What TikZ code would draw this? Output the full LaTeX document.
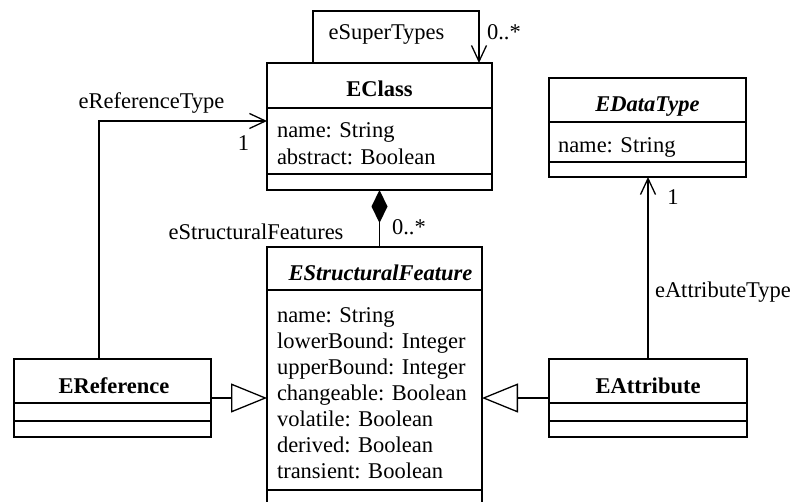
\documentclass[tikz,border=0pt]{standalone}
\usepackage{fontspec}
\setmainfont{Liberation Serif}
\usetikzlibrary{arrows.meta}
\begin{document}
\begin{tikzpicture}[x=1pt,y=-1pt,
  every node/.style={inner sep=0pt,outer sep=0pt,font=\fontsize{22.5}{26}\selectfont},
  classbox/.style={draw,line width=1.3pt,rectangle,anchor=north west},
  divider/.style={line width=1.3pt},
  link/.style={line width=1.3pt},
  assoc/.style={link,-{Straight Barb[length=16pt,width=15pt,line width=1.3pt]}},
  gen/.style={link,-{Triangle[open,length=36pt,width=29pt,line width=1.3pt]}},
  comp/.style={link,{Diamond[length=33pt,width=16pt]}-},
  lbl/.style={anchor=base},
  lblw/.style={anchor=base west},
  cname/.style={anchor=base,font=\fontsize{22.5}{26}\selectfont\bfseries},
  aname/.style={anchor=base,font=\fontsize{22.5}{26}\selectfont\bfseries\itshape},
  attr/.style={anchor=base west}]
\clip (0,0) rectangle (794,502);

% EClass
\node[classbox,minimum width=225pt,minimum height=127pt] (eclass) at (267,63) {};
\draw[divider] (267,108) -- (492,108) (267,174) -- (492,174);
\node[cname] (eclassT) at (379.5,97) {EClass};
\node[attr] (eclassA1) at (277,138) {name: String};
\node[attr] (eclassA2) at (277,165) {abstract: Boolean};

% EDataType
\node[classbox,minimum width=197pt,minimum height=99pt] (edt) at (549,78) {};
\draw[divider] (549,122) -- (746,122) (549,162) -- (746,162);
\node[aname] (edtT) at (647.5,112) {EDataType};
\node[attr] (edtA1) at (558,153) {name: String};

% EStructuralFeature
\node[classbox,minimum width=215pt,minimum height=280pt] (esf) at (267,247) {};
\draw[divider] (267,290) -- (482,290) (267,490) -- (482,490);
\node[aname] (esfT) at (380.5,280) {EStructuralFeature};
\node[attr] (esfA1) at (277,322) {name: String};
\node[attr] (esfA2) at (277,348) {lowerBound: Integer};
\node[attr] (esfA3) at (277,374) {upperBound: Integer};
\node[attr] (esfA4) at (277,400) {changeable: Boolean};
\node[attr] (esfA5) at (277,426) {volatile: Boolean};
\node[attr] (esfA6) at (277,452) {derived: Boolean};
\node[attr] (esfA7) at (277,478) {transient: Boolean};

% EReference
\node[classbox,minimum width=197pt,minimum height=78pt] (eref) at (14,359) {};
\draw[divider] (14,403) -- (211,403) (14,421) -- (211,421);
\node[cname] (erefT) at (114,393) {EReference};

% EAttribute
\node[classbox,minimum width=198pt,minimum height=78pt] (eattr) at (549,359) {};
\draw[divider] (549,403) -- (747,403) (549,421) -- (747,421);
\node[cname] (eattrT) at (648,393) {EAttribute};

% eSuperTypes self association
\coordinate (st1) at (313,11);
\coordinate (st2) at (479,11);
\draw[assoc] (st1 |- eclass.north) -- (st1) -- (st2) -- (st2 |- eclass.north);
\node[lbl] (stL) at (386.5,40) {eSuperTypes};
\node[lblw] (stM) at (487,40) {0..*};

% eReferenceType association
\coordinate (rt) at (99,121);
\draw[assoc] (rt |- eref.north) -- (rt) -- (rt -| eclass.west);
\node[lbl] (rtL) at (151.5,109) {eReferenceType};
\node[lbl] (rtM) at (243.5,151) {1};

% eStructuralFeatures composition
\draw[comp] (eclass.south) -- (eclass.south |- esf.north);
\node[lbl] (sfL) at (256,240) {eStructuralFeatures};
\node[lblw] (sfM) at (392,235) {0..*};

% eAttributeType association
\draw[assoc] (eattr.north) -- (eattr.north |- edt.south);
\node[lbl] (atM) at (673,205) {1};
\node[lblw] (atL) at (655,298) {eAttributeType};

% generalizations
\draw[gen] (eref.east) -- (eref.east -| esf.west);
\draw[gen] (eattr.west) -- (eattr.west -| esf.east);
\end{tikzpicture}
\end{document}
